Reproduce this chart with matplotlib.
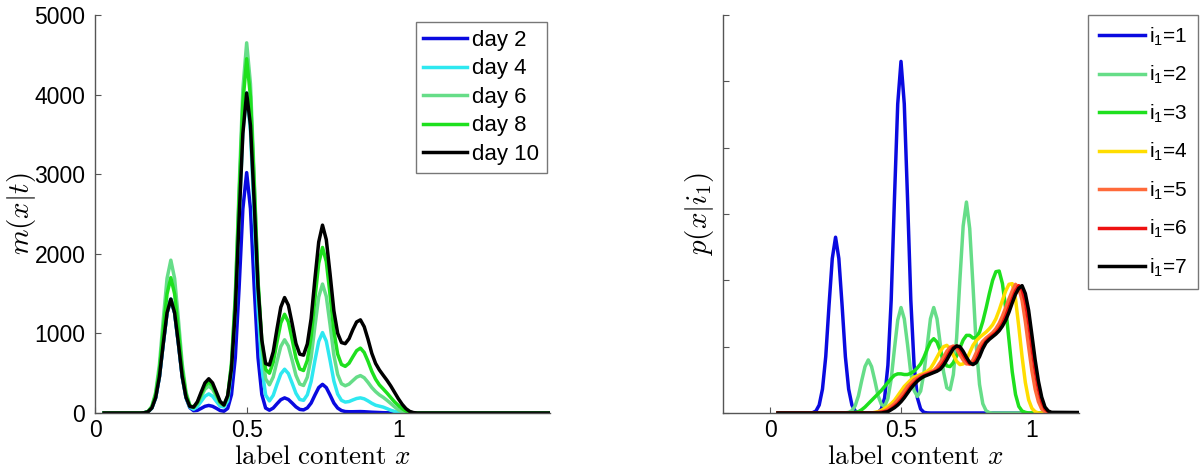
import numpy as np
import matplotlib
matplotlib.use('Agg')
import matplotlib.pyplot as plt

# =========================================
# Datos
# =========================================

# malla comun en x (label content), de 0.15 a 1.075 con paso 0.0125
x = np.round(np.arange(0.15, 1.08, 0.0125), 4)

# --- panel izquierdo: m(x|t) para varios dias ---
dias = ['day 2', 'day 4', 'day 6', 'day 8', 'day 10']

m_dia2 = [0, 3, 16, 63, 193, 458, 872, 1258, 1430,
          1258, 872, 458, 194, 67, 29, 33, 58, 84, 95,
          84, 59, 31, 22, 58, 231, 695, 1570, 2567, 3020,
          2567, 1570, 695, 232, 62, 35, 62, 116, 167, 190,
          170, 125, 77, 45, 39, 64, 125, 225, 319, 360,
          319, 225, 125, 62, 31, 18, 16, 16, 17, 18,
          16, 13, 10, 8, 6, 4, 3, 2, 1, 0, 0, 0, 0, 0, 0, 0]

m_dia4 = [0, 3, 16, 63, 193, 458, 872, 1258, 1430,
          1258, 872, 458, 196, 73, 48, 80, 146, 211, 240,
          211, 147, 85, 76, 150, 546, 1286, 2452, 3538, 4020,
          3543, 2462, 1305, 573, 226, 152, 221, 360, 490, 550,
          496, 374, 247, 170, 159, 229, 396, 658, 900, 1010,
          902, 660, 402, 238, 159, 137, 144, 164, 182, 190,
          178, 152, 122, 98, 86, 74, 55, 35, 20, 10, 4, 0, 0, 0, 0, 0]

m_dia6 = [0, 4, 21, 84, 259, 614, 1171, 1690, 1920,
          1690, 1171, 615, 263, 99, 67, 113, 207, 299, 340,
          299, 208, 118, 96, 195, 624, 1477, 2812, 4068, 4650,
          4133, 2932, 1637, 817, 430, 354, 452, 648, 836, 920,
          841, 663, 473, 364, 346, 450, 698, 1090, 1457, 1620,
          1464, 1108, 726, 484, 368, 342, 363, 407, 450, 470,
          443, 385, 320, 269, 228, 197, 160, 120, 78, 40, 18, 5, 0, 0, 0, 0]

m_dia8 = [0, 3, 19, 75, 230, 544, 1037, 1496, 1700,
          1496, 1037, 545, 234, 92, 72, 128, 238, 343, 390,
          343, 239, 134, 100, 210, 617, 1431, 2706, 3896, 4450,
          3976, 2861, 1657, 897, 547, 500, 638, 892, 1131, 1240,
          1144, 922, 690, 553, 534, 661, 962, 1437, 1880, 2080,
          1902, 1482, 1028, 740, 610, 586, 625, 706, 783, 815,
          760, 650, 524, 425, 353, 303, 251, 195, 140, 95, 55, 25, 8, 2, 0, 0]

m_dia10 = [0, 3, 16, 63, 193, 458, 872, 1258, 1430,
           1258, 872, 459, 198, 82, 74, 141, 262, 378, 430,
           378, 263, 146, 100, 220, 561, 1293, 2440, 3512, 4020,
           3612, 2630, 1574, 917, 621, 603, 768, 1057, 1329, 1450,
           1354, 1122, 873, 739, 727, 868, 1185, 1685, 2148, 2360,
           2178, 1745, 1284, 1002, 885, 871, 933, 1047, 1144, 1170,
           1084, 927, 750, 623, 541, 475, 411, 340, 260, 180, 110, 55, 20, 5, 0, 0]

# --- panel derecho: p(x|i1) para i1 = 1..7 ---
i1_vals = [1, 2, 3, 4, 5, 6, 7]

p_i1 = [0, .005, .03, .12, .36, .85, 1.62, 2.33, 2.65,
        2.33, 1.62, .85, .36, .12, .03, .005, 0, 0, 0,
        0, .002, .01, .06, .23, .72, 1.70, 3.23, 4.66, 5.30,
        4.66, 3.23, 1.70, .72, .23, .06, .01, .002, 0, 0,
        0, 0, 0, 0, 0, 0, 0, 0, 0, 0,
        0, 0, 0, 0, 0, 0, 0, 0, 0, 0,
        0, 0, 0, 0, 0, 0, 0, 0, 0, 0, 0, 0, 0, 0, 0, 0]

p_i2 = [0, 0, 0, 0, 0, 0, 0, 0, 0,
        0, 0, .002, .009, .035, .11, .26, .49, .70, .80,
        .70, .49, .26, .13, .10, .22, .51, .97, 1.40, 1.59,
        1.42, 1.03, .60, .34, .25, .33, .60, 1.01, 1.42, 1.59,
        1.42, 1.04, .62, .38, .35, .58, 1.13, 2.01, 2.82, 3.18,
        2.78, 1.92, 1.01, .43, .14, .035, .006, 0, 0, 0,
        0, 0, 0, 0, 0, 0, 0, 0, 0, 0, 0, 0, 0, 0, 0, 0]

p_i3 = [0, 0, 0, 0, 0, 0, 0, 0, 0,
        0, 0, 0, 0, 0, .01, .02, .05, .09, .14,
        .19, .24, .29, .34, .40, .46, .52, .57, .59, .59,
        .58, .58, .60, .63, .68, .74, .84, .96, 1.07, 1.12,
        1.07, .94, .80, .71, .70, .76, .86, .98, 1.10, 1.17,
        1.17, 1.13, 1.14, 1.22, 1.38, 1.58, 1.80, 2.00, 2.13, 2.14,
        1.95, 1.58, 1.10, .62, .28, .10, .03, .01, 0, 0, 0, 0, 0, 0, 0, 0]

p_i4 = [0, 0, 0, 0, 0, 0, 0, 0, 0,
        0, 0, 0, 0, 0, 0, 0, 0, 0, 0,
        0, .01, .02, .04, .07, .10, .14, .19, .26, .33,
        .40, .45, .50, .54, .56, .58, .60, .63, .67, .75,
        .84, .93, 1.00, 1.02, .97, .87, .78, .73, .74, .80,
        .91, 1.02, 1.09, 1.14, 1.18, 1.22, 1.27, 1.33, 1.42, 1.55,
        1.70, 1.84, 1.94, 1.95, 1.72, 1.30, .85, .46, .20, .07, .02, 0, 0, 0, 0, 0]

p_i5 = [0, 0, 0, 0, 0, 0, 0, 0, 0,
        0, 0, 0, 0, 0, 0, 0, 0, 0, 0,
        0, 0, .01, .02, .03, .06, .10, .14, .20, .26,
        .33, .40, .45, .50, .53, .56, .58, .60, .62, .64,
        .69, .76, .84, .93, .99, 1.01, .97, .88, .80, .74,
        .74, .80, .91, 1.01, 1.08, 1.13, 1.17, 1.21, 1.27, 1.35,
        1.46, 1.59, 1.72, 1.84, 1.94, 1.88, 1.70, 1.38, 1.00, .64, .36, .17, .06, .02, 0, 0]

p_i6 = [0, 0, 0, 0, 0, 0, 0, 0, 0,
        0, 0, 0, 0, 0, 0, 0, 0, 0, 0,
        0, 0, 0, .01, .02, .03, .06, .10, .14, .20,
        .26, .33, .40, .45, .50, .53, .56, .58, .60, .62,
        .64, .69, .76, .84, .93, .99, 1.01, .97, .88, .80,
        .74, .74, .80, .91, 1.01, 1.08, 1.13, 1.17, 1.21, 1.27,
        1.35, 1.46, 1.59, 1.72, 1.84, 1.92, 1.86, 1.68, 1.37, .99, .64, .36, .17, .06, .02, 0]

p_i7 = [0, 0, 0, 0, 0, 0, 0, 0, 0,
        0, 0, 0, 0, 0, 0, 0, 0, 0, 0,
        0, 0, 0, 0, .01, .02, .05, .08, .12, .17,
        .23, .30, .37, .43, .48, .52, .55, .57, .59, .61,
        .63, .66, .72, .80, .89, .97, 1.01, 1.00, .93, .84,
        .76, .73, .76, .85, .97, 1.06, 1.11, 1.15, 1.19, 1.24,
        1.31, 1.40, 1.52, 1.66, 1.79, 1.88, 1.92, 1.80, 1.55, 1.18, .80, .48, .24, .09, .03, .01]

colores_izq = ['#0a0ae0', '#2ee8f0', '#66dd88', '#1ee01e', '#000000']
colores_der = ['#0a0ae0', '#66dd88', '#1ee01e', '#ffdd00', '#ff6a3a', '#ee1111', '#000000']

# =========================================
# Estilo general
# =========================================

plt.rcParams['font.family'] = ['Liberation Sans', 'DejaVu Sans']
plt.rcParams['mathtext.fontset'] = 'custom'
plt.rcParams['mathtext.rm'] = 'Liberation Sans'
plt.rcParams['mathtext.it'] = 'Liberation Sans:italic'


def extender(valores):
    # la curva sigue en cero a ambos lados de la malla
    xs = np.concatenate([[0.03], x, [1.5]])
    ys = np.concatenate([[0], valores, [0]])
    return xs, ys


def estilo_ejes(ax):
    for lado in ['top', 'right']:
        ax.spines[lado].set_visible(False)
    for lado in ['left', 'bottom']:
        ax.spines[lado].set_color('#555555')
        ax.spines[lado].set_linewidth(1.0)
    ax.tick_params(direction='in', length=4, width=0.8, colors='#555555',
                   labelcolor='black', labelsize=16.5, pad=4)


fig = plt.figure(figsize=(12, 4.68), dpi=100)

# =========================================
# Panel izquierdo
# =========================================

ax1 = fig.add_axes([95 / 1200, 1 - 413 / 468, 455 / 1200, 398 / 468])

series_izq = [m_dia2, m_dia4, m_dia6, m_dia8, m_dia10]
for nombre, valores, color in zip(dias, series_izq, colores_izq):
    xs, ys = extender(valores)
    ax1.plot(xs, ys, color=color, lw=2.5, label=nombre)

ax1.set_xlim(0, 1.5)
ax1.set_ylim(0, 5000)
ax1.set_xticks([0, 0.5, 1])
ax1.set_xticklabels(['0', '0.5', '1'])
ax1.set_yticks([0, 1000, 2000, 3000, 4000, 5000])
estilo_ejes(ax1)
ax1.tick_params(axis='y', pad=7)

ax1.set_xlabel(r'$\mathrm{label\ content}\ x$', fontsize=19.5, math_fontfamily='cm')
ax1.xaxis.set_label_coords(0.5, -0.077)
ax1.set_ylabel(r'$m(x|t)$', fontsize=21, math_fontfamily='cm')
ax1.yaxis.set_label_coords(-0.125, 0.5)

leg1 = ax1.legend(loc='upper right', bbox_to_anchor=(547 / 1200, 1 - 22 / 468),
                  bbox_transform=fig.transFigure, fontsize=16, frameon=True,
                  fancybox=False, framealpha=1, edgecolor='#777777',
                  handlelength=1.95, handletextpad=0.25, labelspacing=0.34,
                  borderpad=0.35, borderaxespad=0)
leg1.get_frame().set_linewidth(1.0)

# =========================================
# Panel derecho
# =========================================

ax2 = fig.add_axes([723 / 1200, 1 - 413 / 468, 356 / 1200, 398 / 468])

series_der = [p_i1, p_i2, p_i3, p_i4, p_i5, p_i6, p_i7]
for k, valores, color in zip(i1_vals, series_der, colores_der):
    xs, ys = extender(valores)
    ax2.plot(xs, ys, color=color, lw=2.5, label=r'i$_{1}$=%d' % k)

ax2.set_xlim(-0.18, 1.18)
ax2.set_ylim(0, 6)
ax2.set_xticks([0, 0.5, 1])
ax2.set_xticklabels(['0', '0.5', '1'])
ax2.set_yticks([0, 1, 2, 3, 4, 5, 6])
ax2.set_yticklabels([])
estilo_ejes(ax2)

ax2.set_xlabel(r'$\mathrm{label\ content}\ x$', fontsize=19.5, math_fontfamily='cm')
ax2.xaxis.set_label_coords(0.54, -0.077)
ax2.set_ylabel(r'$p(x|i_1)$', fontsize=21, math_fontfamily='cm')
ax2.yaxis.set_label_coords(-0.02, 0.5)

leg2 = ax2.legend(loc='upper right', bbox_to_anchor=(1198 / 1200, 1 - 15 / 468),
                  bbox_transform=fig.transFigure, fontsize=15, frameon=True,
                  fancybox=False, framealpha=1, edgecolor='#777777',
                  handlelength=2.2, handletextpad=0.2, labelspacing=0.78,
                  borderpad=0.5, borderaxespad=0)
leg2.get_frame().set_linewidth(1.0)

fig.savefig('out.png', dpi=100)
